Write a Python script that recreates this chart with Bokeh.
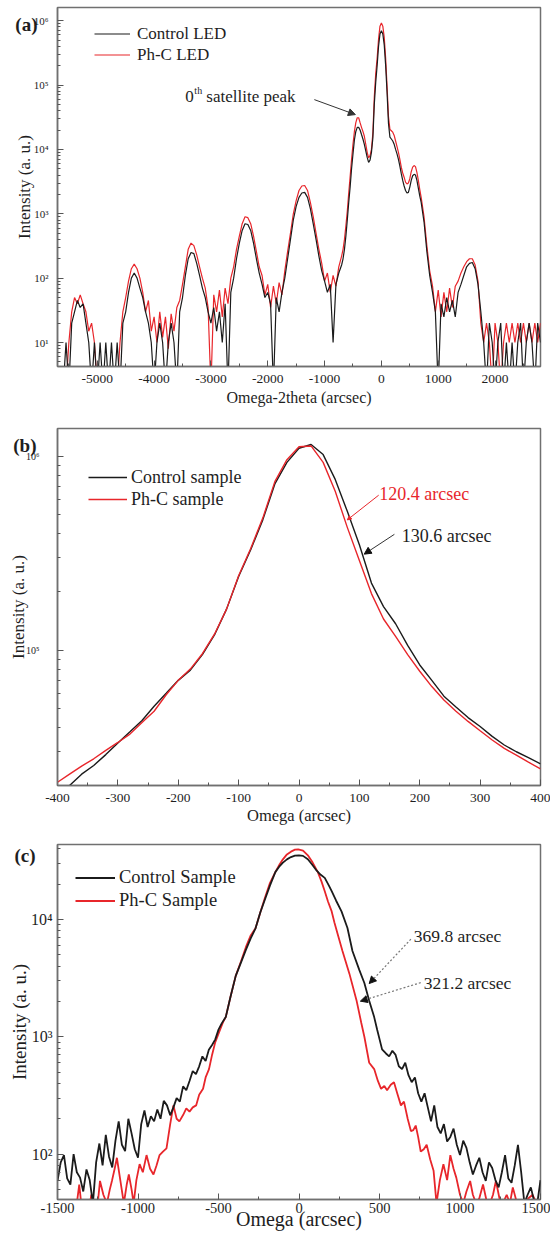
from bokeh.plotting import figure
from bokeh.models import (Range1d, FixedTicker, CustomJSTickFormatter, Legend, LegendItem,
                          Label, Arrow, NormalHead, LogAxis)
from bokeh.layouts import column
from bokeh.embed import file_html
from bokeh.resources import INLINE

# ---------------- data: panel (a) omega-2theta scan ----------------
xa = [-5700, -5650, -5600, -5550, -5500, -5450, -5400, -5350, -5300, -5250,
      -5200, -5150, -5100, -5050, -5000, -4950, -4900, -4850, -4800, -4750,
      -4700, -4650, -4600, -4550, -4500, -4450, -4400, -4350, -4300, -4250,
      -4200, -4150, -4100, -4050, -4000, -3950, -3900, -3850, -3800, -3750,
      -3700, -3650, -3600, -3550, -3500, -3450, -3400, -3350, -3300, -3250,
      -3200, -3150, -3100, -3050, -3000, -2950, -2900, -2850, -2800, -2750,
      -2700, -2650, -2600, -2550, -2500, -2450, -2400, -2350, -2300, -2250,
      -2200, -2150, -2100, -2050, -2000, -1950, -1900, -1850, -1800, -1750,
      -1700, -1650, -1600, -1550, -1500, -1450, -1400, -1350, -1300, -1250,
      -1200, -1150, -1100, -1050, -1000, -950, -900, -850, -800, -750,
      -700, -675, -650, -625, -600, -575, -550, -525, -500, -475,
      -450, -425, -400, -375, -350, -325, -300, -275, -250, -225,
      -200, -175, -150, -125, -100, -75, -50, -25, 0, 25,
      50, 75, 100, 125, 150, 175, 200, 225, 250, 275,
      300, 325, 350, 375, 400, 425, 450, 475, 500, 525,
      550, 575, 600, 625, 650, 675, 700, 750, 800, 850,
      900, 950, 1000, 1050, 1100, 1150, 1200, 1250, 1300, 1350,
      1400, 1450, 1500, 1550, 1600, 1650, 1700, 1750, 1800, 1850,
      1900, 1950, 2000, 2050, 2100, 2150, 2200, 2250, 2300, 2350,
      2400, 2450, 2500, 2550, 2600, 2650, 2700, 2750, 2800]
ctl_a = [2, 2, 2, 10, 2, 20, 30, 45, 35, 40,
         20, 10, 2, 10, 2, 10, 2, 10, 2, 10,
         2, 10, 2, 20, 30, 60, 100, 120, 100, 70,
         50, 30, 20, 10, 2, 10, 20, 10, 2, 10,
         20, 10, 2, 30, 50, 110, 200, 250, 240, 170,
         110, 70, 50, 30, 20, 35, 15, 30, 10, 40,
         2, 60, 100, 200, 350, 550, 700, 680, 550, 350,
         200, 120, 80, 50, 60, 40, 2, 50, 30, 60,
         100, 200, 400, 800, 1300, 1800, 2100, 2150, 1800, 1200,
         700, 400, 220, 130, 90, 60, 80, 10, 80, 120,
         160, 200, 280, 450, 800, 1500, 2600, 5000, 8500, 14000,
         19000, 22000, 22000, 20000, 17000, 14500, 12000, 9500, 7500, 6300,
         6800, 9000, 15000, 50000, 110000, 200000, 400000, 620000, 700000, 620000,
         420000, 200000, 75000, 25000, 15500, 14500, 13500, 12000, 10000, 8500,
         7000, 5500, 4200, 3300, 2700, 2300, 2100, 2150, 2600, 3300,
         3900, 4100, 4000, 3300, 2500, 1900, 1500, 750, 260, 110,
         60, 30, 2, 40, 25, 50, 30, 45, 25, 60,
         80, 110, 150, 170, 175, 140, 80, 30, 10, 2,
         20, 10, 2, 10, 20, 2, 10, 2, 10, 2,
         10, 20, 2, 10, 20, 10, 2, 20, 10]
phc_a = [2, 2, 2, 2, 10, 30, 50, 40, 55, 40,
         30, 15, 20, 10, 2, 2, 2, 2, 2, 2,
         2, 2, 10, 30, 50, 90, 140, 165, 140, 100,
         60, 30, 45, 15, 25, 10, 30, 12, 25, 8,
         28, 15, 35, 45, 80, 150, 280, 350, 320, 230,
         150, 100, 70, 35, 2, 55, 30, 65, 25, 70,
         40, 100, 150, 280, 450, 700, 900, 870, 700, 450,
         260, 150, 110, 55, 80, 35, 75, 40, 85, 55,
         130, 260, 500, 1000, 1600, 2300, 2700, 2750, 2300, 1500,
         900, 500, 280, 170, 90, 120, 60, 110, 75, 150,
         220, 280, 400, 650, 1100, 2100, 3800, 7000, 12000, 19000,
         26000, 31000, 31000, 26000, 22000, 19000, 16000, 12000, 9000, 7400,
         8000, 10000, 18000, 65000, 150000, 260000, 520000, 820000, 920000, 820000,
         550000, 260000, 95000, 32000, 20500, 19500, 18500, 16500, 13500, 11000,
         9000, 7000, 5300, 4300, 3700, 3100, 2900, 3000, 3500, 4500,
         5300, 5600, 5400, 4400, 3300, 2400, 1800, 900, 320, 130,
         75, 30, 65, 25, 60, 30, 70, 35, 75, 90,
         120, 150, 180, 200, 200, 160, 90, 20, 10, 20,
         10, 2, 20, 10, 2, 10, 20, 10, 20, 10,
         20, 10, 20, 10, 20, 10, 20, 10, 20]

# ---------------- data: panel (b) omega rocking curve ----------------
xb = [-400, -380, -360, -340, -320, -300, -280, -260, -240, -220,
      -200, -180, -160, -140, -120, -100, -80, -60, -40, -20,
      0, 20, 40, 60, 80, 100, 120, 140, 160, 180,
      200, 220, 240, 260, 280, 300, 320, 340, 360, 380,
      400]
ctl_b = [17500, 20100, 23000, 25500, 29000, 33300, 38000, 43500, 51500, 60000,
         70000, 79000, 95000, 120000, 163000, 240000, 330000, 470000, 720000, 930000,
         1100000, 1150000, 1020000, 760000, 520000, 350000, 222000, 168000, 137000, 106000,
         84000, 70000, 58000, 51000, 45000, 40500, 36000, 32500, 30000, 28000,
         26000]
phc_b = [20900, 23000, 25300, 27600, 30500, 33500, 37000, 42500, 48500, 59000,
         70000, 80000, 96000, 121000, 163000, 242000, 335000, 480000, 740000, 960000,
         1120000, 1130000, 930000, 660000, 430000, 290000, 196000, 145000, 118000, 95000,
         78000, 65000, 55500, 48500, 43000, 38500, 34500, 31200, 28800, 26500,
         24500]

# ---------------- data: panel (c) omega rocking curve ----------------
xc_ctl = [-1500, -1480, -1460, -1440, -1420, -1400, -1380, -1360, -1340, -1320,
          -1300, -1280, -1260, -1240, -1220, -1200, -1180, -1160, -1140, -1120,
          -1100, -1080, -1060, -1040, -1020, -1000, -980, -960, -940, -920,
          -900, -880, -860, -840, -820, -800, -780, -760, -740, -720,
          -700, -680, -660, -640, -620, -600, -580, -560, -540, -520,
          -500, -480, -455, -425, -393, -360, -330, -300, -270, -240,
          -210, -180, -147, -120, -100, -75, -50, -25, 0, 25,
          55, 80, 110, 135, 160, 185, 203, 230, 264, 301,
          332, 375, 406, 436, 467, 486, 516, 540, 560, 580,
          600, 620, 640, 660, 680, 700, 720, 740, 760, 780,
          800, 820, 840, 860, 880, 900, 920, 940, 960, 980,
          1000, 1020, 1040, 1060, 1080, 1100, 1120, 1140, 1160, 1180,
          1200, 1220, 1240, 1260, 1280, 1300, 1320, 1340, 1360, 1380,
          1400, 1420, 1440, 1460, 1480, 1500]
ctl_c = [59, 85, 98, 62, 55, 100, 70, 63, 48, 74,
         60, 38, 85, 123, 80, 146, 95, 77, 130, 190,
         120, 106, 200, 150, 110, 93, 180, 235, 170, 210,
         190, 240, 200, 284, 260, 214, 250, 300, 280, 378,
         350, 420, 510, 480, 560, 680, 620, 775, 850, 950,
         1150, 1300, 1470, 2200, 3300, 4300, 5500, 6900, 8400, 11500,
         15000, 19500, 25300, 28500, 30500, 32500, 34000, 35000, 35200, 34800,
         32600, 29500, 26000, 24000, 22600, 19500, 17400, 14500, 11700, 8450,
         5380, 3700, 2870, 2030, 1470, 1140, 780, 720, 680, 760,
         700, 560, 530, 600, 470, 410, 450, 330, 280, 330,
         250, 190, 260, 170, 150, 180, 128, 140, 165, 120,
         98, 130, 113, 85, 67, 80, 93, 70, 59, 85,
         76, 60, 52, 70, 98, 62, 57, 80, 120, 70,
         38, 45, 52, 40, 38, 60]
xc_phc = [-1500, -1480, -1460, -1440, -1420, -1400, -1380, -1365, -1350, -1330,
          -1310, -1290, -1270, -1250, -1236, -1215, -1193, -1175, -1162, -1145,
          -1131, -1110, -1088, -1070, -1057, -1040, -1027, -1010, -990, -970,
          -947, -925, -904, -885, -866, -845, -823, -800, -780, -760,
          -743, -720, -700, -680, -660, -639, -620, -596, -580, -559,
          -540, -520, -498, -470, -455, -425, -393, -360, -330, -300,
          -270, -240, -210, -180, -147, -120, -100, -75, -50, -25,
          -5, 25, 55, 85, 117, 140, 160, 180, 203, 220,
          240, 270, 313, 357, 387, 406, 436, 467, 490, 510,
          530, 547, 570, 590, 610, 633, 652, 675, 695, 710,
          725, 740, 756, 775, 793, 815, 836, 854, 875, 897,
          920, 940, 960, 977, 1000, 1020, 1040, 1063, 1080, 1100,
          1120, 1143, 1165, 1186, 1205, 1223, 1245, 1266, 1290, 1310,
          1328, 1350, 1371, 1400, 1425, 1451, 1475, 1500]
phc_c = [30, 30, 30, 30, 30, 30, 38, 55, 35, 30,
         30, 45, 30, 38, 59, 45, 38, 50, 59, 75,
         93, 60, 38, 55, 67, 50, 38, 60, 82, 70,
         98, 75, 67, 80, 98, 105, 112, 180, 260, 200,
         190, 215, 245, 230, 250, 260, 320, 360, 450, 530,
         700, 900, 1080, 1350, 1470, 2200, 3300, 4400, 5800, 7300,
         8400, 11500, 15500, 20500, 25300, 29500, 32500, 35800, 37800, 39300,
         39500, 38600, 35200, 30500, 25300, 21000, 17400, 14200, 11700, 9400,
         7500, 5380, 3450, 2050, 1310, 1000, 600, 530, 420, 360,
         380, 350, 390, 410, 330, 260, 280, 200, 157, 160,
         175, 140, 105, 110, 120, 90, 72, 38, 60, 82,
         60, 98, 75, 63, 45, 38, 48, 59, 45, 38,
         42, 55, 40, 38, 45, 59, 42, 38, 45, 38,
         52, 40, 38, 38, 42, 45, 38, 38]

# ---------------- style ----------------
FONT = "'Liberation Serif', 'Times New Roman', Times, serif"
BLACK = "#1b1b1b"
RED = "#e8262b"
FRAME = "#707070"
TXT = "#1e1e1e"

SUP_CODE = """
const s = {"0":"\\u2070","1":"\\u00b9","2":"\\u00b2","3":"\\u00b3","4":"\\u2074",
           "5":"\\u2075","6":"\\u2076","7":"\\u2077","8":"\\u2078","9":"\\u2079","-":"\\u207b"};
const e = Math.round(Math.log10(tick));
return "10" + String(e).split("").map(c => s[c]).join("");
"""
PLAIN_CODE = "return tick.toFixed(0);"


def log_ticks(lo, hi):
    major = [10.0 ** d for d in range(lo, hi + 1)]
    minor = [k * 10.0 ** d for d in range(lo - 1, hi + 1) for k in range(2, 10)]
    return FixedTicker(ticks=major, minor_ticks=minor)


def make_fig(height, bl, bt, bb, xr, yr):
    p = figure(width=550, height=height, x_range=xr, y_range=yr, y_axis_type="log",
               output_backend="svg", toolbar_location=None,
               min_border_left=bl, min_border_right=10, min_border_top=bt, min_border_bottom=bb)
    p.grid.visible = False
    p.outline_line_color = FRAME
    p.outline_line_width = 1.5
    for ax in (p.xaxis[0], p.yaxis[0]):
        ax.axis_line_color = FRAME
        ax.axis_line_width = 1.5
        ax.major_tick_in = 6
        ax.major_tick_out = 0
        ax.minor_tick_in = 3
        ax.minor_tick_out = 0
        ax.major_tick_line_color = "#555555"
        ax.minor_tick_line_color = "#555555"
        ax.major_label_text_font = FONT
        ax.axis_label_text_font = FONT
        ax.axis_label_text_font_style = "normal"
        ax.major_label_text_color = TXT
        ax.axis_label_text_color = TXT
    p.yaxis[0].formatter = CustomJSTickFormatter(code=SUP_CODE)
    p.xaxis[0].formatter = CustomJSTickFormatter(code=PLAIN_CODE)
    return p


def add_legend(p, items, loc, gw, gh, fs, standoff):
    leg = Legend(items=[LegendItem(label=l, renderers=[r]) for l, r in items],
                 location=loc, border_line_color=None, background_fill_alpha=0,
                 padding=0, margin=0, spacing=0, glyph_width=gw, glyph_height=gh,
                 label_height=gh, label_standoff=standoff, label_text_font=FONT,
                 label_text_font_size=fs, label_text_color=TXT)
    p.add_layout(leg)


def panel_letter(p, txt, yval, standoff):
    # the panel letter is drawn as the only label of a bare extra axis in the left border
    ax = LogAxis(ticker=FixedTicker(ticks=[yval], minor_ticks=[]),
                 formatter=CustomJSTickFormatter(code="return '%s';" % txt),
                 axis_line_color=None, major_tick_line_color=None, minor_tick_line_color=None,
                 major_tick_in=0, major_tick_out=0, minor_tick_in=0, minor_tick_out=0,
                 major_label_standoff=standoff, major_label_text_font=FONT,
                 major_label_text_font_size="19px", major_label_text_font_style="bold",
                 major_label_text_color=TXT)
    p.add_layout(ax, "left")


# ---------------- panel (a) ----------------
pa = make_fig(412, 57, 7, 46, Range1d(-5700, 2800), Range1d(4.24, 1.6e6))
pa.xaxis[0].ticker = FixedTicker(ticks=[-5000, -4000, -3000, -2000, -1000, 0, 1000, 2000],
                                 minor_ticks=[-5500, -4500, -3500, -2500, -1500, -500, 500, 1500, 2500])
pa.yaxis[0].ticker = log_ticks(1, 6)
pa.xaxis[0].axis_label = "Omega-2theta (arcsec)"
pa.yaxis[0].axis_label = "Intensity (a. u.)"
pa.xaxis[0].major_label_text_font_size = "13.5px"
pa.xaxis[0].axis_label_text_font_size = "16px"
pa.yaxis[0].major_label_text_font_size = "11px"
pa.yaxis[0].axis_label_text_font_size = "17px"
pa.xaxis[0].major_label_standoff = 8
pa.xaxis[0].axis_label_standoff = 3
pa.yaxis[0].major_label_standoff = 9
pa.yaxis[0].axis_label_standoff = -3
ra_p = pa.line(xa, phc_a, line_color=RED, line_width=1.2)
ra_c = pa.line(xa, ctl_a, line_color=BLACK, line_width=1.2)
add_legend(pa, [("Control LED", ra_c), ("Ph-C LED", ra_p)], (37, 301), 36, 21, "17px", 7)
panel_letter(pa, "(a)", 8.7e5, -26)
pa.add_layout(Label(x=-3450, y=66000, text="0", text_font=FONT, text_font_size="17px",
                    text_color=TXT, text_baseline="middle"))
pa.add_layout(Label(x=-3450, y=66000, x_offset=9, y_offset=6, text="th", text_font=FONT,
                    text_font_size="10px", text_color=TXT, text_baseline="middle"))
pa.add_layout(Label(x=-3450, y=66000, x_offset=21, text="satellite peak", text_font=FONT,
                    text_font_size="17px", text_color=TXT, text_baseline="middle"))
pa.add_layout(Arrow(x_start=-1180, y_start=59300, x_end=-458, y_end=34700,
                    line_color="#333333", line_width=1,
                    end=NormalHead(size=7, fill_color="#333333", line_color="#333333")))

# ---------------- panel (b) ----------------
pb = make_fig(416, 55, 16, 43, Range1d(-400, 400), Range1d(20100, 1.39e6))
pb.xaxis[0].ticker = FixedTicker(ticks=[-400, -300, -200, -100, 0, 100, 200, 300, 400],
                                 minor_ticks=[-350, -250, -150, -50, 50, 150, 250, 350])
pb.yaxis[0].ticker = log_ticks(5, 6)
pb.xaxis[0].axis_label = "Omega (arcsec)"
pb.yaxis[0].axis_label = "Intensity (a. u.)"
pb.xaxis[0].major_label_text_font_size = "13.5px"
pb.xaxis[0].axis_label_text_font_size = "16.5px"
pb.yaxis[0].major_label_text_font_size = "10px"
pb.yaxis[0].axis_label_text_font_size = "17px"
pb.xaxis[0].major_label_standoff = 8
pb.xaxis[0].axis_label_standoff = 1
pb.yaxis[0].major_label_standoff = 18
pb.yaxis[0].axis_label_standoff = -5
rb_c = pb.line(xb, ctl_b, line_color=BLACK, line_width=1.4)
rb_p = pb.line(xb, phc_b, line_color=RED, line_width=1.4)
add_legend(pb, [("Control sample", rb_c), ("Ph-C sample", rb_p)], (31, 275), 39, 22, "18px", 4)
panel_letter(pb, "(b)", 1.136e6, -30)
pb.add_layout(Arrow(x_start=132, y_start=630000, x_end=80, y_end=470000,
                    line_color=RED, line_width=1,
                    end=NormalHead(size=4, fill_color=RED, line_color=RED)))
pb.add_layout(Label(x=133, y=640000, text="120.4 arcsec", text_font=FONT, text_font_size="18px",
                    text_color=RED, text_baseline="middle"))
pb.add_layout(Arrow(x_start=158, y_start=396000, x_end=108, y_end=313000,
                    line_color="#333333", line_width=1,
                    end=NormalHead(size=7, fill_color="#111111", line_color="#111111")))
pb.add_layout(Label(x=170, y=390000, text="130.6 arcsec", text_font=FONT, text_font_size="18px",
                    text_color=TXT, text_baseline="middle"))

# ---------------- panel (c) ----------------
pc = make_fig(405, 52, 16, 34, Range1d(-1500, 1500), Range1d(41, 43500))
pc.xaxis[0].ticker = FixedTicker(ticks=[-1500, -1000, -500, 0, 500, 1000, 1500],
                                 minor_ticks=[-1250, -750, -250, 250, 750, 1250])
pc.yaxis[0].ticker = log_ticks(2, 4)
pc.xaxis[0].axis_label = "Omega (arcsec)"
pc.yaxis[0].axis_label = "Intensity (a. u.)"
pc.xaxis[0].major_label_text_font_size = "14.5px"
pc.xaxis[0].axis_label_text_font_size = "20px"
pc.yaxis[0].major_label_text_font_size = "16px"
pc.yaxis[0].axis_label_text_font_size = "19px"
pc.xaxis[0].major_label_standoff = 3
pc.xaxis[0].axis_label_standoff = -8
pc.yaxis[0].major_label_standoff = 5
pc.yaxis[0].axis_label_standoff = -2
rc_p = pc.line(xc_phc, phc_c, line_color=RED, line_width=1.8)
rc_c = pc.line(xc_ctl, ctl_c, line_color=BLACK, line_width=1.8)
add_legend(pc, [("Control Sample", rc_c), ("Ph-C Sample", rc_p)], (18, 287), 40, 23, "18.5px", 4)
panel_letter(pc, "(c)", 34900, -30)
pc.add_layout(Arrow(x_start=695, y_start=6790, x_end=436, y_end=2840,
                    line_color="#777777", line_width=1.2, line_dash="2 2",
                    end=NormalHead(size=7, fill_color="#111111", line_color="#111111")))
pc.add_layout(Label(x=713, y=7200, text="369.8 arcsec", text_font=FONT, text_font_size="17.5px",
                    text_color=TXT, text_baseline="middle"))
pc.add_layout(Arrow(x_start=756, y_start=2890, x_end=381, y_end=2010,
                    line_color="#777777", line_width=1.2, line_dash="2 2",
                    end=NormalHead(size=7, fill_color="#111111", line_color="#111111")))
pc.add_layout(Label(x=775, y=2890, text="321.2 arcsec", text_font=FONT, text_font_size="17.5px",
                    text_color=TXT, text_baseline="middle"))

layout = column(pa, pb, pc)
open("out.html", "w").write(file_html(layout, INLINE))
